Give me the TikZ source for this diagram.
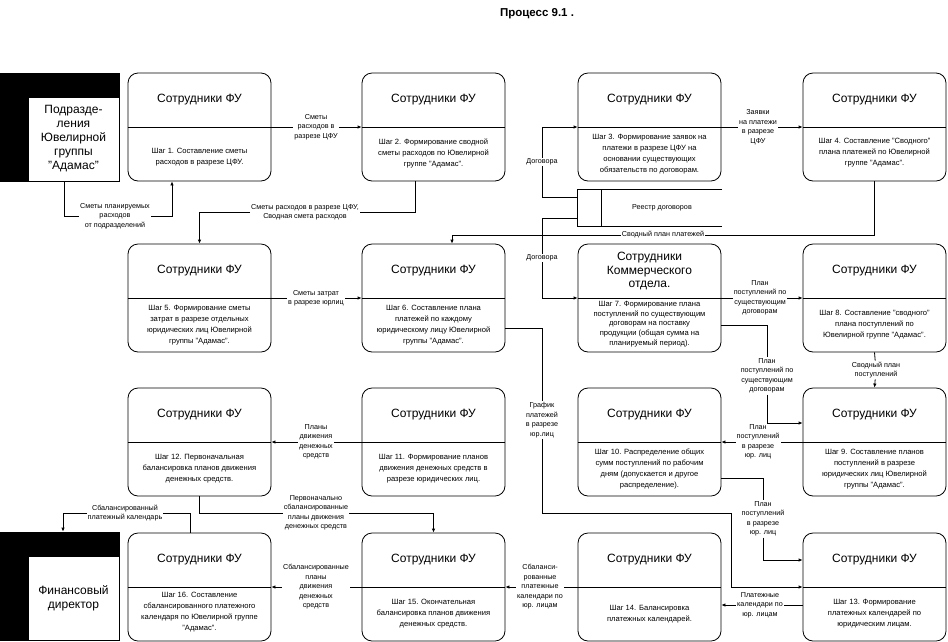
\documentclass[tikz,border=0pt]{standalone}
\usepackage{fontspec}
\setmainfont{Liberation Sans}
\usetikzlibrary{arrows.meta}

\tikzset{
  box/.style={draw, rounded corners=10pt, minimum width=143pt, minimum height=108pt, line width=0.8pt},
  head/.style={align=center, font=\fontsize{12}{13.5}\selectfont},
  body/.style={align=center, font=\fontsize{7.6}{11}\selectfont},
  lab/.style={fill=white, align=center, inner sep=1pt, font=\fontsize{7.2}{9.5}\selectfont},
  ext/.style={draw, fill=black, minimum width=119pt, minimum height=108pt, line width=0.8pt},
  extin/.style={draw, fill=white, minimum width=91pt, minimum height=84pt, inner sep=0pt, align=center, font=\fontsize{12}{14}\selectfont, line width=0.8pt},
  flow/.style={-{Latex[length=4pt,width=3.5pt]}, line width=0.8pt},
}

\begin{document}
\begin{tikzpicture}[x=1pt,y=-1pt]
\useasboundingbox (0,0) rectangle (948,641);
\node[font=\bfseries\fontsize{11.5}{13}\selectfont] (title) at (537,14) {Процесс 9.1 .};

% external entities
\node[ext] (sub) at (59.5,127) {};
\node[extin, anchor=south east] at (sub.south east) {Подразде-\\ления\\Ювелирной\\группы\\"Адамас"};
\node[ext] (fd) at (59.5,586) {};
\node[extin, anchor=south east] at (fd.south east) {Финансовый\\директор};

% steps
\foreach \n/\x/\y/\t in {s1/199.5/127/{Сотрудники ФУ}, s2/433.5/127/{Сотрудники ФУ},
  s3/649.5/127/{Сотрудники ФУ}, s4/874.5/127/{Сотрудники ФУ},
  s5/199.5/298/{Сотрудники ФУ}, s6/433.5/298/{Сотрудники ФУ},
  s7/649.5/298/{Сотрудники\\Коммерческого\\отдела.}, s8/874.5/298/{Сотрудники ФУ},
  s12/199.5/442/{Сотрудники ФУ}, s11/433.5/442/{Сотрудники ФУ},
  s10/649.5/442/{Сотрудники ФУ}, s9/874.5/442/{Сотрудники ФУ},
  s16/199.5/587/{Сотрудники ФУ}, s15/433.5/587/{Сотрудники ФУ},
  s14/649.5/587/{Сотрудники ФУ}, s13/874.5/587/{Сотрудники ФУ}} {
  \node[box] (\n) at (\x,\y) {};
  \draw[line width=0.8pt] (\n.west) -- (\n.east);
  \node[head] at ([yshift=27pt]\n.center) {\t};
}
\node[body] at ([yshift=-30pt]s1.center) {Шаг 1. Составление сметы\\расходов в разрезе ЦФУ.};
\node[body] at ([yshift=-26pt]s2.center) {Шаг 2. Формирование сводной\\сметы расходов по Ювелирной\\группе "Адамас".};
\node[body] at ([yshift=-27pt]s3.center) {Шаг 3. Формирование заявок на\\платежи в разрезе ЦФУ на\\основании существующих\\обязательств по договорам.};
\node[body] at ([yshift=-26pt]s4.center) {Шаг 4. Составление "Сводного"\\плана платежей по Ювелирной\\группе "Адамас".};
\node[body] at ([yshift=-27pt]s5.center) {Шаг 5. Формирование сметы\\затрат в разрезе отдельных\\юридических лиц Ювелирной\\группы "Адамас".};
\node[body] at ([yshift=-27pt]s6.center) {Шаг 6. Составление плана\\платежей по каждому\\юридическому лицу Ювелирной\\группы "Адамас".};
\node[body, font=\fontsize{7.6}{9.8}\selectfont] at ([yshift=-26pt]s7.center) {Шаг 7. Формирование плана\\поступлений по существующим\\договорам на поставку\\продукции (общая сумма на\\планируемый период).};
\node[body] at ([yshift=-27pt]s8.center) {Шаг 8. Составление "сводного"\\плана поступлений по\\Ювелирной группе "Адамас".};
\node[body] at ([yshift=-27pt]s9.center) {Шаг 9. Составление планов\\поступлений в разрезе\\юридических лиц Ювелирной\\группы "Адамас".};
\node[body] at ([yshift=-27pt]s10.center) {Шаг 10. Распределение общих\\сумм поступлений по рабочим\\дням (допускается и другое\\распределение).};
\node[body] at ([yshift=-27pt]s11.center) {Шаг 11. Формирование планов\\движения денежных средств в\\разрезе юридических лиц.};
\node[body] at ([yshift=-27pt]s12.center) {Шаг 12. Первоначальная\\балансировка планов движения\\денежных средств.};
\node[body] at ([yshift=-27pt]s13.center) {Шаг 13. Формирование\\платежных календарей по\\юридическим лицам.};
\node[body] at ([yshift=-27pt]s14.center) {Шаг 14. Балансировка\\платежных календарей.};
\node[body] at ([yshift=-27pt]s15.center) {Шаг 15. Окончательная\\балансировка планов движения\\денежных средств.};
\node[body] at ([yshift=-25pt]s16.center) {Шаг 16. Составление\\сбалансированного платежного\\календаря по Ювелирной группе\\"Адамас".};

% data store
\node[minimum width=144pt, minimum height=36pt] (reg) at (650,208) {};
\draw[line width=0.8pt] (reg.north east) -- (reg.north west) -- (reg.south west) -- (reg.south east);
\draw[line width=0.8pt] (reg.north west) ++(24,0) -- ++(0,36);
\node[lab] at ([xshift=12pt]reg.center) {Реестр договоров};

% flow labels
\node[lab] (l1) at (115,216) {Сметы планируемых\\расходов\\от подразделений};
\node[lab] (l2) at (316,127) {Сметы\\расходов в\\разрезе ЦФУ};
\node[lab] (l3) at (305,212) {Сметы расходов в разрезе ЦФУ,\\Сводная смета расходов};
\node[lab] (l4) at (758,127) {Заявки\\на платежи\\в разрезе\\ЦФУ};
\node[lab] (l5) at (542,162) {Договора};
\node[lab] (l6) at (542,258) {Договора};
\node[lab] (l7) at (663,235) {Сводный план платежей};
\node[lab] (l8) at (316,298) {Сметы затрат\\в разрезе юрлиц};
\node[lab] (l9) at (760,298) {План\\поступлений по\\существующим\\договорам};
\node[lab] (l10) at (767,376) {План\\поступлений по\\существующим\\договорам};
\node[lab] (l11) at (876,370) {Сводный план\\поступлений};
\node[lab] (l12) at (542,420) {График\\платежей\\в разрезе\\юр.лиц};
\node[lab] (l13) at (758,442) {План\\поступлений\\в разрезе\\юр. лиц};
\node[lab] (l14) at (763,519) {План\\поступлений\\в разрезе\\юр. лиц};
\node[lab] (l15) at (316,442) {Планы\\движения\\денежных\\средств};
\node[lab] (l16) at (316,513) {Первоначально\\сбалансированные\\планы движения\\денежных средств};
\node[lab] (l17) at (125,513) {Сбалансированный\\платежный календарь};
\node[lab] (l18) at (316,587) {Сбалансированные\\планы\\движения\\денежных\\средств};
\node[lab] (l19) at (540,587) {Сбаланси-\\рованные\\платежные\\календари по\\юр. лицам};
\node[lab] (l20) at (760,605) {Платежные\\календари по\\юр. лицам};

% flows
\draw[flow] (sub.south -| 64,0) |- (l1) -| (s1.south -| 172,0);
\draw[flow] (s1.east) -- (l2) -- (s2.west);
\draw[flow] (s2.south -| 415,0) |- (l3) -| (s5.north);
\draw[flow] (s3.east) -- (l4) -- (s4.west);
\draw[flow] ([yshift=11pt]reg.west) -| (l5) |- (s3.west);
\draw[flow] ([yshift=-10pt]reg.west) -| (l6) |- (s7.west);
\draw[flow] (s4.south) |- (l7) -| (s6.north -| 452,0);
\draw[flow] (s5.east) -- (l8) -- (s6.west);
\draw[flow] (s7.east) -- (l9) -- (s8.west);
\draw[flow] ([yshift=-27pt]s7.east) -| (l10) |- ([yshift=19pt]s9.west);
\draw[flow] (s8.south) -- (l11) -- (s9.north);
\draw[flow] ([yshift=-30pt]s6.east) -| (l12) |- (731,513) |- (s13.west);
\draw[flow] (s9.west) -- (l13) -- (s10.east);
\draw[flow] ([yshift=-36pt]s10.east) -| (l14) |- ([yshift=27pt]s13.west);
\draw[flow] (s11.west) -- (l15) -- (s12.east);
\draw[flow] (s12.south) |- (l16) -| (s15.north);
\draw[flow] (s16.north -| 190,0) |- (l17) -| (fd.north -| 63,0);
\draw[flow] (s15.west) -- (l18) -- (s16.east);
\draw[flow] (s14.west) -- (l19) -- (s15.east);
\draw[flow] ([yshift=-18pt]s13.west) -- (l20) -- ([yshift=-18pt]s14.east);
\end{tikzpicture}
\end{document}
